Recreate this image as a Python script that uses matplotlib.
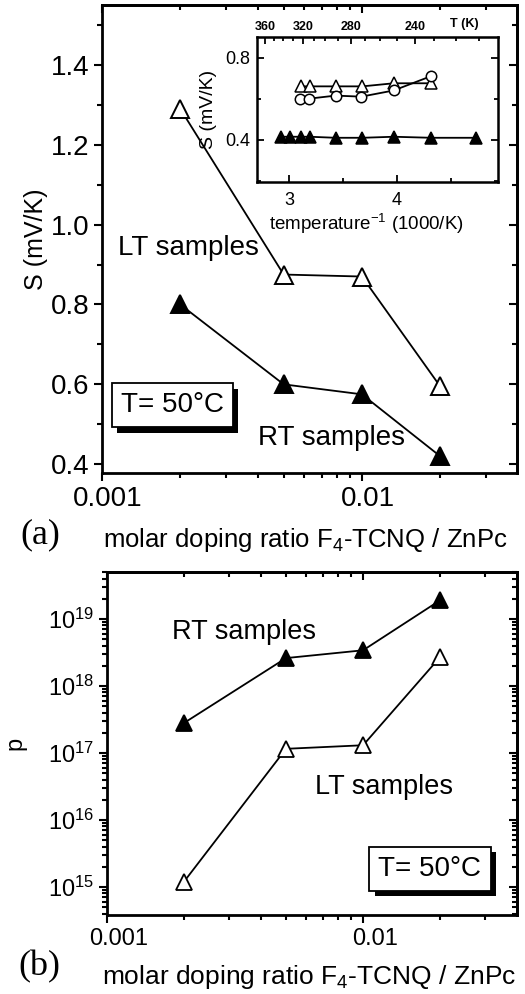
import matplotlib
matplotlib.use("Agg")
import matplotlib.pyplot as plt
import matplotlib.ticker as mticker
import matplotlib.patheffects as pe
import matplotlib.transforms as mtrans

plt.rcParams['font.family'] = ['Liberation Sans', 'DejaVu Sans']
plt.rcParams['mathtext.fontset'] = 'custom'
plt.rcParams['mathtext.rm'] = 'Liberation Sans'

# doping ratios (both panels)
ratio = [0.002, 0.005, 0.01, 0.02]

# (a) thermopower at 50 C
S_lt = [1.29, 0.875, 0.87, 0.595]
S_rt = [0.80, 0.60, 0.575, 0.42]

# (b) hole density
p_rt = [2.8e17, 2.6e18, 3.4e18, 1.9e19]
p_lt = [1.2e15, 1.15e17, 1.3e17, 2.7e18]

# inset: S vs inverse temperature
inv_T_open = [3.11, 3.19, 3.43, 3.68, 3.97, 4.32]
S_open_tri = [0.66, 0.66, 0.66, 0.66, 0.675, 0.675]
inv_T_circ = [3.10, 3.18, 3.43, 3.67, 3.97, 4.32]
S_circ = [0.60, 0.60, 0.615, 0.61, 0.64, 0.71]
inv_T_fill = [2.92, 3.01, 3.11, 3.19, 3.43, 3.68, 3.97, 4.32, 4.74]
S_fill = [0.415, 0.415, 0.415, 0.415, 0.41, 0.41, 0.415, 0.41, 0.41]
T_ticks = [360, 320, 280, 240]

W, H = 525, 994
fig = plt.figure(figsize=(W / 100, H / 100), dpi=100)


def frac(l, t, r, b):
    return [l / W, 1 - b / H, (r - l) / W, (b - t) / H]


def style(ax, lw=2.0):
    # left/bottom ticks point out, mirrored top/right ticks point in
    for s in ax.spines.values():
        s.set_linewidth(lw)
    ax.tick_params(which='both', direction='out', width=1.5, color='k')
    ax.tick_params(which='major', length=6)
    ax.tick_params(which='minor', length=3.5)
    top = ax.secondary_xaxis('top')
    right = ax.secondary_yaxis('right')
    top.xaxis.set_major_locator(ax.xaxis.get_major_locator())
    top.xaxis.set_minor_locator(ax.xaxis.get_minor_locator())
    right.yaxis.set_major_locator(ax.yaxis.get_major_locator())
    right.yaxis.set_minor_locator(ax.yaxis.get_minor_locator())
    for a in (top, right):
        a.tick_params(which='both', direction='in', width=1.5, labeltop=False, labelright=False,
                      labelbottom=False, labelleft=False)
        a.tick_params(which='major', length=6)
        a.tick_params(which='minor', length=3.5)
        for s in a.spines.values():
            s.set_linewidth(lw)


def shift_xlabels(ax, px):
    off = mtrans.ScaledTranslation(px / 100, 0, fig.dpi_scale_trans)
    for lab in ax.get_xticklabels():
        lab.set_transform(lab.get_transform() + off)


def shadow_box(ax, x, y, s):
    t = ax.text(x, y, s, transform=ax.transAxes, fontsize=20, ha='left', va='center',
                bbox=dict(boxstyle='square,pad=0.33', fc='white', ec='k', lw=1.3), zorder=5)
    t.get_bbox_patch().set_path_effects([
        pe.withSimplePatchShadow(offset=(4, -4), shadow_rgbFace='k', alpha=1.0)])
    return t


# ---- panel (a)
ax = fig.add_axes(frac(102, 5, 517, 473))
ax.plot(ratio, S_lt, '-', color='k', lw=1.3, marker='^', ms=13, mfc='white', mec='k', mew=1.4)
ax.plot(ratio, S_rt, '-', color='k', lw=1.3, marker='^', ms=13, mfc='k', mec='k', mew=1.4)
ax.set_xscale('log')
ax.set_xlim(0.001, 0.0395)
ax.set_ylim(0.378, 1.55)
ax.xaxis.set_major_locator(mticker.FixedLocator([0.001, 0.01]))
ax.xaxis.set_major_formatter(mticker.FixedFormatter(['0.001', '0.01']))
ax.xaxis.set_minor_locator(mticker.LogLocator(subs=range(2, 10)))
ax.xaxis.set_minor_formatter(mticker.NullFormatter())
ax.yaxis.set_major_locator(mticker.MultipleLocator(0.2))
ax.yaxis.set_minor_locator(mticker.MultipleLocator(0.1))
ax.yaxis.set_major_formatter(mticker.FormatStrFormatter('%.1f'))
style(ax)
ax.tick_params(axis='both', which='major', labelsize=20)
ax.tick_params(axis='y', pad=3)
shift_xlabels(ax, 6)
ax.set_ylabel('S (mV/K)', fontsize=18, labelpad=2)
ax.text(118 / W, 1 - 248 / H, 'LT samples', transform=fig.transFigure, fontsize=20, va='center')
ax.text(258 / W, 1 - 438 / H, 'RT samples', transform=fig.transFigure, fontsize=20, va='center')
shadow_box(ax, 0.045, 0.145, 'T= 50°C')
fig.text(20 / W, 1 - 535 / H, '(a)', fontsize=26, family='Liberation Serif', va='center')
fig.text(103 / W, 1 - 540 / H, 'molar doping ratio F$_4$-TCNQ / ZnPc', fontsize=18.5, va='center')

# ---- inset
ins = fig.add_axes(frac(257, 37, 498, 182))
ins.plot(inv_T_open, S_open_tri, '-', color='k', lw=1.3, marker='^', ms=8.5, mfc='white', mec='k', mew=1.1)
ins.plot(inv_T_circ, S_circ, '-', color='k', lw=1.3, marker='o', ms=7.5, mfc='white', mec='k', mew=1.1)
ins.plot(inv_T_fill, S_fill, '-', color='k', lw=1.3, marker='^', ms=8.5, mfc='k', mec='k', mew=1.1)
ins.set_xlim(2.70, 4.94)
ins.set_ylim(0.195, 0.90)
ins.xaxis.set_major_locator(mticker.MultipleLocator(1))
ins.xaxis.set_minor_locator(mticker.MultipleLocator(0.5))
ins.yaxis.set_major_locator(mticker.FixedLocator([0.4, 0.8]))
ins.yaxis.set_minor_locator(mticker.FixedLocator([0.2, 0.6]))
ins.yaxis.set_major_formatter(mticker.FormatStrFormatter('%.1f'))
for s in ins.spines.values():
    s.set_linewidth(1.8)
ins.tick_params(which='both', direction='in', width=1.3, right=True, top=False, labelsize=13)
ins.tick_params(axis='x', pad=7)
ins.tick_params(axis='y', pad=5)
ins.tick_params(which='major', length=5)
ins.tick_params(which='minor', length=3)
ins.set_xlabel('temperature$^{-1}$ (1000/K)', fontsize=13.5, va='top')
ins.xaxis.set_label_coords(0.452, -0.2)
ins.set_ylabel('S (mV/K)', fontsize=14, labelpad=6)
sec = ins.secondary_xaxis('top', functions=(lambda x: 1000 / x, lambda x: 1000 / x))
sec.set_xticks(T_ticks)
sec.xaxis.set_minor_locator(mticker.FixedLocator([350, 340, 330, 310, 300, 290, 270, 260, 250, 230, 220, 210]))
sec.tick_params(which='both', direction='in', width=1.3, labelsize=9, pad=3)
sec.tick_params(which='major', length=5)
sec.tick_params(which='minor', length=3)
for lab in sec.get_xticklabels():
    lab.set_fontweight('bold')
ins.text(0.86, 1.05, 'T (K)', transform=ins.transAxes, fontsize=9, va='bottom', ha='center',
         fontweight='bold')

# ---- panel (b)
bx = fig.add_axes(frac(107, 572, 517, 915))
bx.plot(ratio, p_rt, '-', color='k', lw=1.3, marker='^', ms=12, mfc='k', mec='k', mew=1.3)
bx.plot(ratio, p_lt, '-', color='k', lw=1.3, marker='^', ms=12, mfc='white', mec='k', mew=1.3)
bx.set_xscale('log')
bx.set_yscale('log')
bx.set_xlim(0.001, 0.0399)
bx.set_ylim(10 ** 14.58, 10 ** 19.70)
bx.xaxis.set_major_locator(mticker.FixedLocator([0.001, 0.01]))
bx.xaxis.set_major_formatter(mticker.FixedFormatter(['0.001', '0.01']))
bx.xaxis.set_minor_locator(mticker.LogLocator(subs=range(2, 10)))
bx.xaxis.set_minor_formatter(mticker.NullFormatter())
bx.yaxis.set_major_locator(mticker.LogLocator(numticks=20))
bx.yaxis.set_minor_locator(mticker.LogLocator(subs=range(2, 10), numticks=20))
bx.yaxis.set_minor_formatter(mticker.NullFormatter())
style(bx)
bx.tick_params(axis='both', which='major', labelsize=17)
shift_xlabels(bx, 12)
bx.set_ylabel('p', fontsize=17, labelpad=15)
bx.text(172 / W, 1 - 632 / H, 'RT samples', transform=fig.transFigure, fontsize=19.5, va='center')
bx.text(315 / W, 1 - 787 / H, 'LT samples', transform=fig.transFigure, fontsize=19.5, va='center')
shadow_box(bx, 0.662, 0.135, 'T= 50°C')
fig.text(18 / W, 1 - 967 / H, '(b)', fontsize=26, family='Liberation Serif', va='center')
fig.text(102 / W, 1 - 977 / H, 'molar doping ratio F$_4$-TCNQ / ZnPc', fontsize=19, va='center')

fig.savefig('out.png', dpi=100)
